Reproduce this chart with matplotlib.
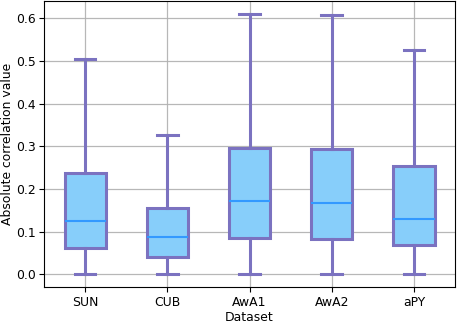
import matplotlib
matplotlib.use("Agg")
import matplotlib.pyplot as plt

datasets = ["SUN", "CUB", "AwA1", "AwA2", "aPY"]
whislo = [0.0, 0.0, 0.0, 0.0, 0.0]
q1 = [0.062, 0.0415, 0.0843, 0.082, 0.068]
med = [0.126, 0.087, 0.171, 0.167, 0.129]
q3 = [0.238, 0.156, 0.2965, 0.2925, 0.253]
whishi = [0.505, 0.327, 0.610, 0.6065, 0.526]

stats = [dict(label=d, whislo=a, q1=b, med=c, q3=e, whishi=f, fliers=[])
         for d, a, b, c, e, f in zip(datasets, whislo, q1, med, q3, whishi)]

plt.rcParams["font.size"] = 8.9
fig = plt.figure(figsize=(4.57, 3.24), dpi=100)
ax = fig.add_axes([0.0963, 0.1133, 0.8995, 0.8837])

edge = "#7b72c0"
ax.bxp(stats, widths=0.5, patch_artist=True, showfliers=False,
       boxprops=dict(facecolor="#87cefa", edgecolor=edge, linewidth=2.2),
       whiskerprops=dict(color=edge, linewidth=2.2),
       capprops=dict(color=edge, linewidth=2.2),
       medianprops=dict(color="#3399ff", linewidth=1.5))

ax.set_axisbelow(True)
ax.grid(True, color="#b0b0b0", linewidth=0.9, alpha=0.9)
ax.set_ylim(-0.0305, 0.6405)
ax.set_xlim(0.5, 5.5)
ax.set_yticks([0.0, 0.1, 0.2, 0.3, 0.4, 0.5, 0.6])
ax.tick_params(axis="both", length=3.5, pad=2.5)
ax.set_ylabel("Absolute correlation value", labelpad=1.5)
ax.set_xlabel("Dataset", labelpad=1.5)
fig.savefig("out.png", dpi=100)
